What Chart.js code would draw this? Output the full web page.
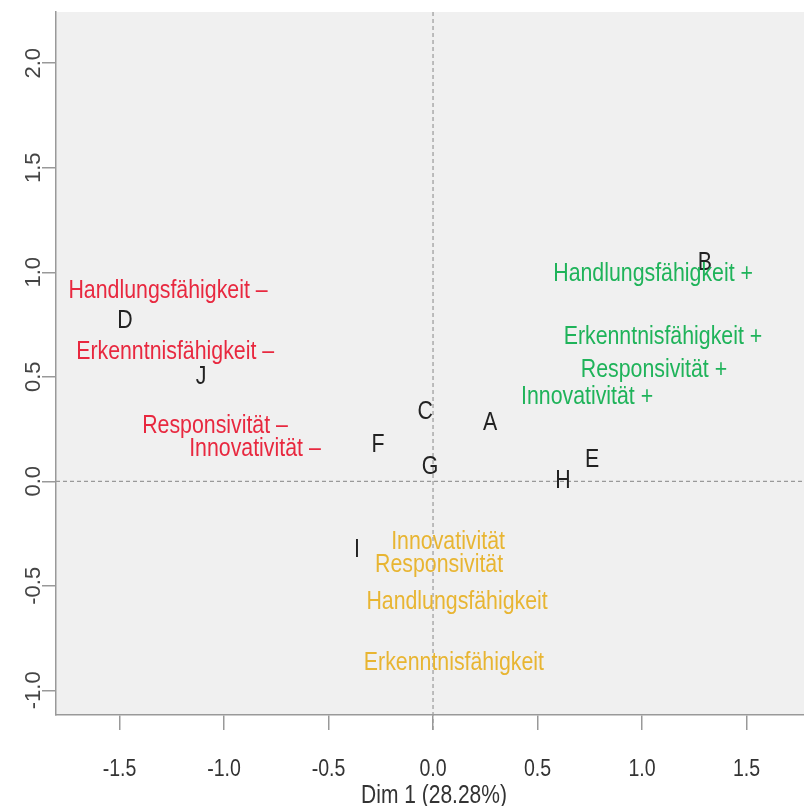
<!DOCTYPE html>
<html>
<head>
<meta charset="utf-8">
<script src="https://cdn.jsdelivr.net/npm/chart.js@4"></script>
<style>
  html, body { margin: 0; padding: 0; background: #fff; }
  #wrap { width: 804px; height: 806px; }
</style>
</head>
<body>
<div id="wrap"><canvas id="caChart"></canvas></div>
<script>
// tick labels
const xTicks = [-1.5, -1.0, -0.5, 0.0, 0.5, 1.0, 1.5];
const yTicks = [-1.0, -0.5, 0.0, 0.5, 1.0, 1.5, 2.0];
const xTitle = 'Dim 1 (28.28%)';

// row points (cases)
const rowNames = ['A', 'B', 'C', 'D', 'E', 'F', 'G', 'H', 'I', 'J'];
const rowX = [0.273, 1.301, -0.038, -1.474, 0.761, -0.263, -0.014, 0.622, -0.364, -1.110];
const rowY = [0.287, 1.057, 0.340, 0.775, 0.110, 0.182, 0.081, 0.010, -0.316, 0.507];

// column categories "+"
const plusNames = ['Handlungsfähigkeit +', 'Erkenntnisfähigkeit +', 'Responsivität +', 'Innovativität +'];
const plusX = [1.053, 1.100, 1.057, 0.737];
const plusY = [1.000, 0.703, 0.541, 0.416];

// column categories "–"
const minusNames = ['Handlungsfähigkeit –', 'Erkenntnisfähigkeit –', 'Responsivität –', 'Innovativität –'];
const minusX = [-1.268, -1.234, -1.043, -0.852];
const minusY = [0.919, 0.627, 0.273, 0.163];

// column categories neutral
const neutralNames = ['Innovativität', 'Responsivität', 'Handlungsfähigkeit', 'Erkenntnisfähigkeit'];
const neutralX = [0.072, 0.029, 0.115, 0.100];
const neutralY = [-0.282, -0.388, -0.565, -0.861];

const labelFont = '"Liberation Sans", Arial, sans-serif';

function pts(xs, ys) {
    return xs.map((x, i) => ({ x: x, y: ys[i] }));
}

// narrow text: squeeze horizontally
function narrowText(ctx, txt, x, y, sx) {
    ctx.save();
    ctx.translate(x, y);
    ctx.scale(sx, 1);
    ctx.fillText(txt, 0, 0);
    ctx.restore();
}

const textLabels = {
    id: 'textLabels',
    beforeDraw(chart) {
        const { ctx, chartArea: a, scales } = chart;
        ctx.save();
        ctx.fillStyle = '#f0f0f0';
        ctx.fillRect(a.left, a.top, a.right - a.left, a.bottom - a.top);
        // dashed zero lines
        ctx.strokeStyle = '#999';
        ctx.lineWidth = 1.2;
        ctx.setLineDash([4, 3]);
        const x0 = scales.x.getPixelForValue(0);
        const y0 = scales.y.getPixelForValue(0);
        ctx.beginPath();
        ctx.moveTo(x0, a.top);
        ctx.lineTo(x0, a.bottom + 15);
        ctx.moveTo(a.left, y0);
        ctx.lineTo(a.right, y0);
        ctx.stroke();
        ctx.restore();
    },
    afterDatasetsDraw(chart) {
        const ctx = chart.ctx;
        ctx.save();
        ctx.textAlign = 'center';
        ctx.textBaseline = 'middle';
        ctx.font = '26px ' + labelFont;
        chart.data.datasets.forEach((ds, i) => {
            const meta = chart.getDatasetMeta(i);
            ctx.fillStyle = ds.textColor;
            meta.data.forEach((el, j) => {
                narrowText(ctx, ds.names[j], el.x, el.y + 2, 0.82);
            });
        });
        // rotated y tick labels
        const ys = chart.scales.y;
        ctx.fillStyle = '#444';
        ctx.font = '22px ' + labelFont;
        yTicks.forEach(v => {
            ctx.save();
            ctx.translate(34, ys.getPixelForValue(v));
            ctx.rotate(-Math.PI / 2);
            ctx.fillText(v.toFixed(1), 0, 0);
            ctx.restore();
        });
        // x tick labels and title
        const xs = chart.scales.x;
        ctx.fillStyle = '#333';
        ctx.font = '23px ' + labelFont;
        xTicks.forEach(v => {
            narrowText(ctx, v.toFixed(1), xs.getPixelForValue(v), 770, 0.85);
        });
        ctx.font = '25px ' + labelFont;
        const a = chart.chartArea;
        narrowText(ctx, xTitle, (a.left + a.right) / 2 + 4, 796, 0.84);
        ctx.restore();
    }
};

new Chart(document.getElementById('caChart'), {
    type: 'scatter',
    data: {
        datasets: [
            { label: 'rows', data: pts(rowX, rowY), names: rowNames, textColor: '#222' },
            { label: 'plus', data: pts(plusX, plusY), names: plusNames, textColor: '#1fb35a' },
            { label: 'minus', data: pts(minusX, minusY), names: minusNames, textColor: '#e8283f' },
            { label: 'neutral', data: pts(neutralX, neutralY), names: neutralNames, textColor: '#e8b532' }
        ]
    },
    options: {
        responsive: true,
        maintainAspectRatio: false,
        animation: false,
        elements: { point: { radius: 0, hoverRadius: 0 } },
        layout: { padding: { top: 12, right: 0, left: 0, bottom: 0 } },
        plugins: { legend: { display: false }, tooltip: { enabled: false } },
        scales: {
            x: {
                type: 'linear',
                min: -1.804,
                max: 1.775,
                afterBuildTicks: (s) => { s.ticks = xTicks.map(v => ({ value: v })); },
                afterFit: (s) => { s.height = 91; },
                grid: { drawOnChartArea: false, drawTicks: true, tickLength: 15, color: '#999', lineWidth: 1.5 },
                border: { color: '#999', width: 1.5 },
                ticks: { color: 'rgba(0,0,0,0)', maxRotation: 0, callback: (v) => v.toFixed(1) }
            },
            y: {
                type: 'linear',
                min: -1.118,
                max: 2.245,
                afterBuildTicks: (s) => { s.ticks = yTicks.map(v => ({ value: v })); },
                afterFit: (s) => { s.width = 56; },
                grid: { drawOnChartArea: false, drawTicks: true, tickLength: 14, color: '#999', lineWidth: 1.5 },
                border: { color: '#999', width: 1.5 },
                ticks: { color: 'rgba(0,0,0,0)', callback: (v) => v.toFixed(1) }
            }
        }
    },
    plugins: [textLabels]
});
</script>
</body>
</html>
